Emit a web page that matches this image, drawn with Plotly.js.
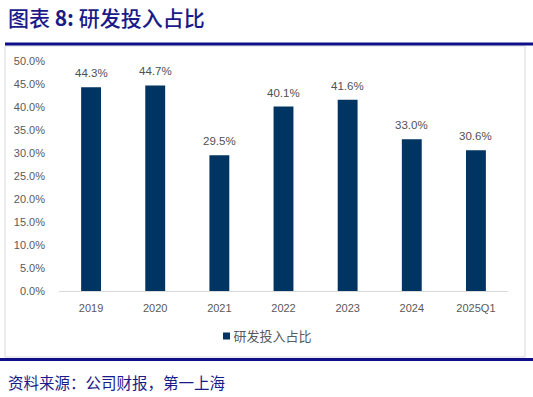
<!DOCTYPE html>
<html>
<head>
<meta charset="utf-8">
<script src="https://cdn.plot.ly/plotly-3.0.1.min.js"></script>
<style>
html,body{margin:0;padding:0;background:#fff;}
#chart{width:533px;height:397px;}
</style>
</head>
<body>
<div id="chart"></div>
<script>
const categories = ["2019","2020","2021","2022","2023","2024","2025Q1"];
const rdRatio = [0.443,0.447,0.295,0.401,0.416,0.330,0.306];
const labels = ["44.3%","44.7%","29.5%","40.1%","41.6%","33.0%","30.6%"];
const seriesName = "研发投入占比";
const titleText = "图表 <b>8:</b> 研发投入占比";
const sourceText = "资料来源：公司财报，第一上海";

const W = 533, H = 397;
const L = 59, R = 508, T = 61, B = 291;
const px = x => (x - L) / (R - L);
const py = y => (B - y) / (B - T);
const numFont = '"Liberation Sans", Arial, sans-serif';

const trace = {
  type: 'bar',
  x: categories,
  y: rdRatio,
  name: seriesName,
  marker: {color: '#003462'},
  hoverinfo: 'none',
  showlegend: true
};

// category axis: annotation positions given as category index
const labelAnnots = categories.map((c, i) => ({
  x: i, y: rdRatio[i], xref: 'x', yref: 'y',
  text: labels[i], showarrow: false,
  xanchor: 'center', yanchor: 'bottom', yshift: 6,
  font: {family: numFont, size: 11.5, color: '#505050'}
}));

const layout = {
  width: W, height: H,
  margin: {l: L, r: W - R, t: T, b: H - B, pad: 0},
  paper_bgcolor: '#fff', plot_bgcolor: '#fff',
  bargap: 0.69,
  font: {family: '"Noto Sans CJK SC", "Liberation Sans", sans-serif', size: 11, color: '#595959'},
  xaxis: {
    type: 'category',
    categoryorder: 'array', categoryarray: categories,
    range: [-0.5, categories.length - 0.5],
    showgrid: false, zeroline: false,
    showline: true, linecolor: '#d9d9d9', linewidth: 1,
    ticks: '', ticklen: 0,
    ticklabelstandoff: 7,
    tickfont: {family: numFont, size: 11, color: '#595959'},
    fixedrange: true
  },
  yaxis: {
    range: [0, 0.5],
    dtick: 0.05,
    tickformat: '.1%',
    showgrid: false, zeroline: false, showline: false,
    ticks: '',
    ticklabelstandoff: 13,
    tickfont: {family: numFont, size: 11, color: '#595959'},
    fixedrange: true
  },
  showlegend: true,
  legend: {
    orientation: 'h',
    xref: 'container', yref: 'container',
    x: 0.5, xanchor: 'center',
    y: 1 - 336 / H, yanchor: 'middle',
    font: {family: '"Noto Sans CJK SC", sans-serif', size: 13, color: '#595959'}
  },
  shapes: [
    {type: 'rect', xref: 'paper', yref: 'paper', x0: px(5), x1: px(525), y0: py(357), y1: py(46),
     line: {color: '#d9d9d9', width: 1}, fillcolor: 'rgba(0,0,0,0)', layer: 'below'},
    {type: 'line', xref: 'paper', yref: 'paper', x0: px(5), x1: px(533), y0: py(44), y1: py(44),
     line: {color: '#0f0f8c', width: 3}},
    {type: 'line', xref: 'paper', yref: 'paper', x0: px(0), x1: px(533), y0: py(359.5), y1: py(359.5),
     line: {color: '#0f0f8c', width: 3}}
  ],
  annotations: [
    {text: titleText, xref: 'paper', yref: 'paper', x: px(6), y: py(17),
     xanchor: 'left', yanchor: 'middle', showarrow: false,
     font: {family: '"Noto Sans CJK SC", "Liberation Sans", sans-serif', size: 21, weight: 500, color: '#1a1a8a'}},
    {text: sourceText, xref: 'paper', yref: 'paper', x: px(6), y: py(382),
     xanchor: 'left', yanchor: 'middle', showarrow: false,
     font: {family: '"Noto Sans CJK SC", sans-serif', size: 15.5, color: '#1a1a8a'}}
  ].concat(labelAnnots)
};

Plotly.newPlot('chart', [trace], layout, {displayModeBar: false, staticPlot: true}).then(gd => {
  // tighten legend: smaller square, text right next to it (Excel-style)
  gd.querySelectorAll('.legend .traces').forEach(t => {
    t.querySelectorAll('.legendpoints path').forEach(p => p.setAttribute('d', 'M3.5,3.5H-3.5V-3.5H3.5Z'));
    const txt = t.querySelector('.legendtext');
    if (txt) txt.setAttribute('x', '27');
  });
  const leg = gd.querySelector('.legend');
  if (leg) {
    const m = /translate\(([-\d.]+),\s*([-\d.]+)\)/.exec(leg.getAttribute('transform') || '');
    if (m) leg.setAttribute('transform', 'translate(' + (223 - 16.5) + ',' + parseFloat(m[2]) + ')');
  }
});
</script>
</body>
</html>
